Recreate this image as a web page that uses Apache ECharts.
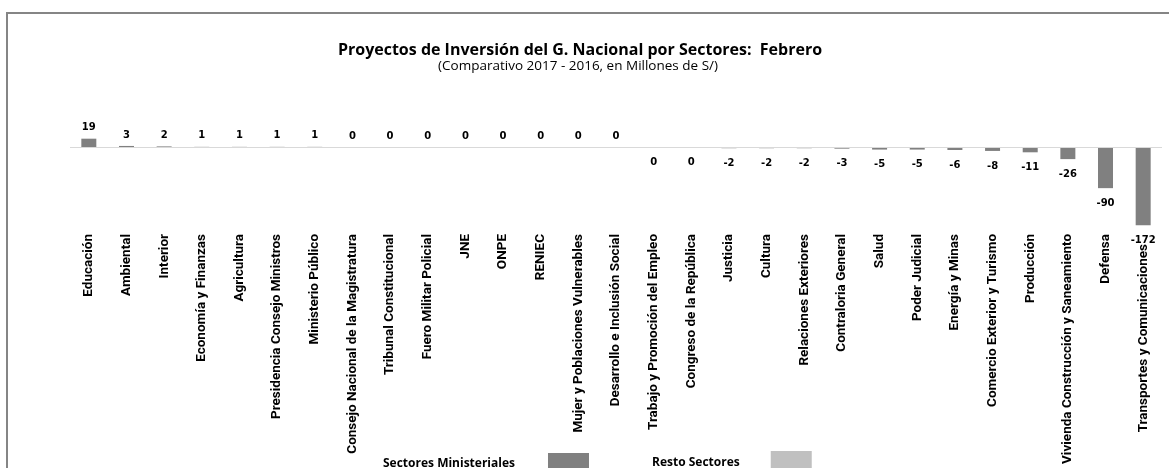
<!DOCTYPE html>
<html>
<head>
<meta charset="utf-8">
<script src="https://cdn.jsdelivr.net/npm/echarts@6/dist/echarts.min.js"></script>
<style>
    body { margin: 0; background: #fff; }
    #chart { position: absolute; left: 0; top: 0; width: 1169px; height: 468px; }
    #marco { position: absolute; left: 6px; top: 12px; right: 0; bottom: 0; border-top: 2px solid #858585; border-left: 2px solid #858585; }
</style>
</head>
<body>
<div id="marco"></div>
<div id="chart"></div>
<script>
// sectores y variación 2017 - 2016 (millones de S/)
var sectores = [
    'Educación', 'Ambiental', 'Interior', 'Economía y Finanzas', 'Agricultura',
    'Presidencia Consejo Ministros', 'Ministerio Público', 'Consejo Nacional de la Magistratura',
    'Tribunal Constitucional', 'Fuero Militar Policial', 'JNE', 'ONPE', 'RENIEC',
    'Mujer y Poblaciones Vulnerables', 'Desarrollo e Inclusión Social',
    'Trabajo y Promoción del Empleo', 'Congreso de la República', 'Justicia', 'Cultura',
    'Relaciones Exteriores', 'Contraloria General', 'Salud', 'Poder Judicial',
    'Energía y Minas', 'Comercio Exterior y Turismo', 'Producción',
    'Vivienda Construcción y Saneamiento', 'Defensa', 'Transportes y Comunicaciones'
];
var variacion = [
    19, 3, 2, 1, 1,
    1, 1, 0.4,
    0.3, 0.1, 0.05, 0.03, 0.02,
    0.01, 0,
    -0.4, -0.3, -2, -2,
    -2, -3, -5, -5,
    -6, -8, -11,
    -26, -90, -172
];
var leyendas = ['Sectores Ministeriales', 'Resto Sectores'];

var myChart = echarts.init(document.getElementById('chart'));

// etiqueta arriba para positivos, abajo para negativos
var datos = [];
for (var i = 0; i < variacion.length; i++) {
    var neg = variacion[i] < 0;
    datos.push({
        value: variacion[i],
        label: { position: neg ? 'bottom' : 'top', distance: neg ? 10 : 6 }
    });
}
var vacios = [];
for (var j = 0; j < sectores.length; j++) {
    vacios.push('-');
}

var option = {
    animation: false,
    title: [{
        text: 'Proyectos de Inversión del G. Nacional por Sectores:  Febrero',
        left: 575,
        top: 37,
        textAlign: 'center',
        textStyle: { fontFamily: 'Open Sans', fontWeight: 'bold', fontSize: 16, color: '#000' }
    }, {
        text: '(Comparativo 2017 - 2016, en Millones de S/)',
        left: 573,
        top: 54,
        textAlign: 'center',
        textStyle: { fontFamily: 'Open Sans', fontWeight: 'normal', fontSize: 13.5, color: '#000' }
    }],
    legend: [{
        data: [leyendas[0]],
        left: 383,
        top: 453,
        padding: 0,
        align: 'right',
        icon: 'rect',
        itemWidth: 41,
        itemHeight: 22,
        selectedMode: false,
        textStyle: { fontFamily: 'Open Sans', fontWeight: 'bold', fontSize: 12, color: '#000', padding: [8, 28, 0, 0] }
    }, {
        data: [leyendas[1]],
        left: 652,
        top: 451,
        padding: 0,
        align: 'right',
        icon: 'rect',
        itemWidth: 41,
        itemHeight: 24,
        selectedMode: false,
        textStyle: { fontFamily: 'Open Sans', fontWeight: 'bold', fontSize: 12, color: '#000', padding: [0, 26, 0, 0] }
    }],
    grid: {
        left: 70,
        right: 7,
        top: 111,
        height: 118
    },
    xAxis: {
        type: 'category',
        data: sectores,
        position: 'bottom',
        axisLine: { show: false },
        axisTick: { show: false },
        axisLabel: {
            interval: 0,
            rotate: 90,
            margin: 5,
            fontFamily: 'Roboto',
            fontWeight: 'bold',
            fontSize: 13.5,
            color: '#000',
            // el último nombre baja un poco para no chocar con la etiqueta -172
            formatter: function(v, idx) {
                if (idx == sectores.length - 1) {
                    return v + '\u00a0\u00a0\u00a0';
                }
                return v;
            }
        }
    },
    yAxis: {
        type: 'value',
        min: -180,
        max: 80,
        show: false,
        splitLine: { show: false }
    },
    series: [{
        name: leyendas[0],
        type: 'bar',
        data: datos,
        barWidth: 15,
        barGap: '-100%',
        itemStyle: { color: '#808080' },
        label: {
            show: true,
            fontFamily: 'DejaVu Sans',
            fontWeight: 'bold',
            fontSize: 10,
            color: '#000',
            formatter: function(p) {
                return String(Math.round(p.value) || 0);
            }
        },
        markLine: {
            silent: true,
            symbol: ['none', 'none'],
            label: { show: false },
            lineStyle: { color: '#d9d9d9', width: 1, type: 'solid' },
            data: [{ yAxis: 0 }]
        }
    }, {
        name: leyendas[1],
        type: 'bar',
        data: vacios,
        barWidth: 15,
        itemStyle: { color: '#c0c0c0' }
    }]
};

myChart.setOption(option);
</script>
</body>
</html>
